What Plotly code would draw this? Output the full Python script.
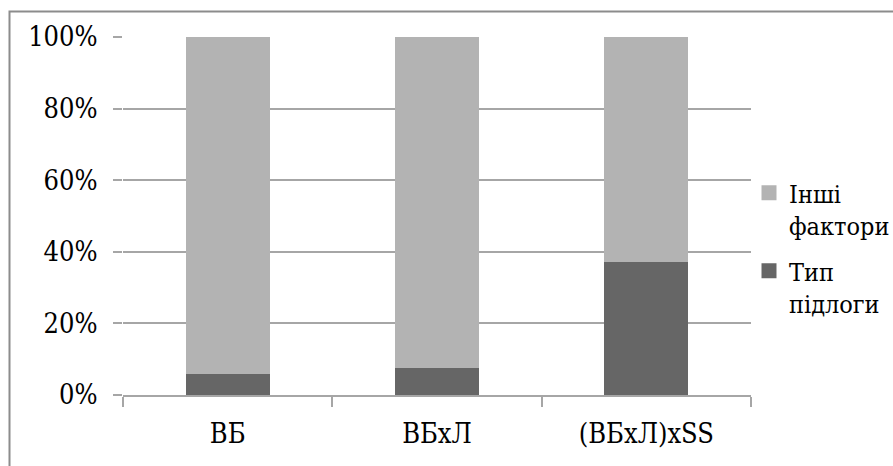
import plotly.graph_objects as go

# Share of variance explained by floor type vs. other factors
categories = ["ВБ", "ВБхЛ", "(ВБхЛ)хSS"]
floor_type = [6.0, 7.6, 37.2]
other_factors = [94.0, 92.4, 62.8]
y_ticks = [0, 20, 40, 60, 80, 100]

name_floor = "Тип<br>підлоги"
name_other = "Інші<br>фактори"

col_floor = "#666666"
col_other = "#b3b3b3"
grid_col = "#a6a6a6"
font_family = "DejaVu Serif Condensed"

fig = go.Figure()
fig.add_trace(go.Bar(x=categories, y=floor_type, marker=dict(color=col_floor, line=dict(width=0)),
                     width=0.4, showlegend=False, name=name_floor))
fig.add_trace(go.Bar(x=categories, y=other_factors, marker=dict(color=col_other, line=dict(width=0)),
                     width=0.4, showlegend=False, name=name_other))

# legend entries with larger square swatches, one group each for extra spacing
fig.add_trace(go.Scatter(x=[None], y=[None], mode="markers", name=name_other, legendgroup="other",
                         marker=dict(symbol="square", size=15, color=col_other)))
fig.add_trace(go.Scatter(x=[None], y=[None], mode="markers", name=name_floor, legendgroup="floor",
                         marker=dict(symbol="square", size=15, color=col_floor)))

W, H = 893, 466
L, R, T, B = 123, 142, 37, 71
pw, ph = W - L - R, H - T - B

def px_x(p):
    return (p - L) / pw

def px_y(p):
    return (H - B - p) / ph

fig.update_layout(
    width=W, height=H,
    margin=dict(l=L, r=R, t=T, b=B, pad=0, autoexpand=False),
    barmode="stack",
    plot_bgcolor="white", paper_bgcolor="white",
    font=dict(family=font_family, size=27, color="#000000"),
    showlegend=True,
    legend=dict(x=px_x(749), y=px_y(170), xanchor="left", yanchor="top",
                traceorder="grouped", valign="top", bgcolor="rgba(0,0,0,0)",
                font=dict(family=font_family, size=25), itemwidth=30, tracegroupgap=10),
    xaxis=dict(type="category", showgrid=False, showline=True, linecolor=grid_col, linewidth=1.5,
               ticks="outside", tickson="boundaries", ticklen=10, tickcolor=grid_col, tickwidth=1.5,
               ticklabelstandoff=14, range=[-0.5, 2.5], fixedrange=True,
               tickfont=dict(family=font_family, size=27)),
    yaxis=dict(range=[0, 100], tickvals=y_ticks, ticktext=[f"{v}%" for v in y_ticks],
               showgrid=True, gridcolor=grid_col, gridwidth=1.5, zeroline=False,
               showline=False, ticks="outside", ticklen=9, tickcolor=grid_col, tickwidth=1.5,
               ticklabelstandoff=10, fixedrange=True,
               tickfont=dict(family=font_family, size=27)),
    shapes=[dict(type="rect", xref="paper", yref="paper",
                 x0=px_x(9.5), x1=px_x(900), y0=px_y(480), y1=px_y(11.5),
                 line=dict(color="#8c8c8c", width=2), layer="below")],
)

fig.write_html("out.html")
